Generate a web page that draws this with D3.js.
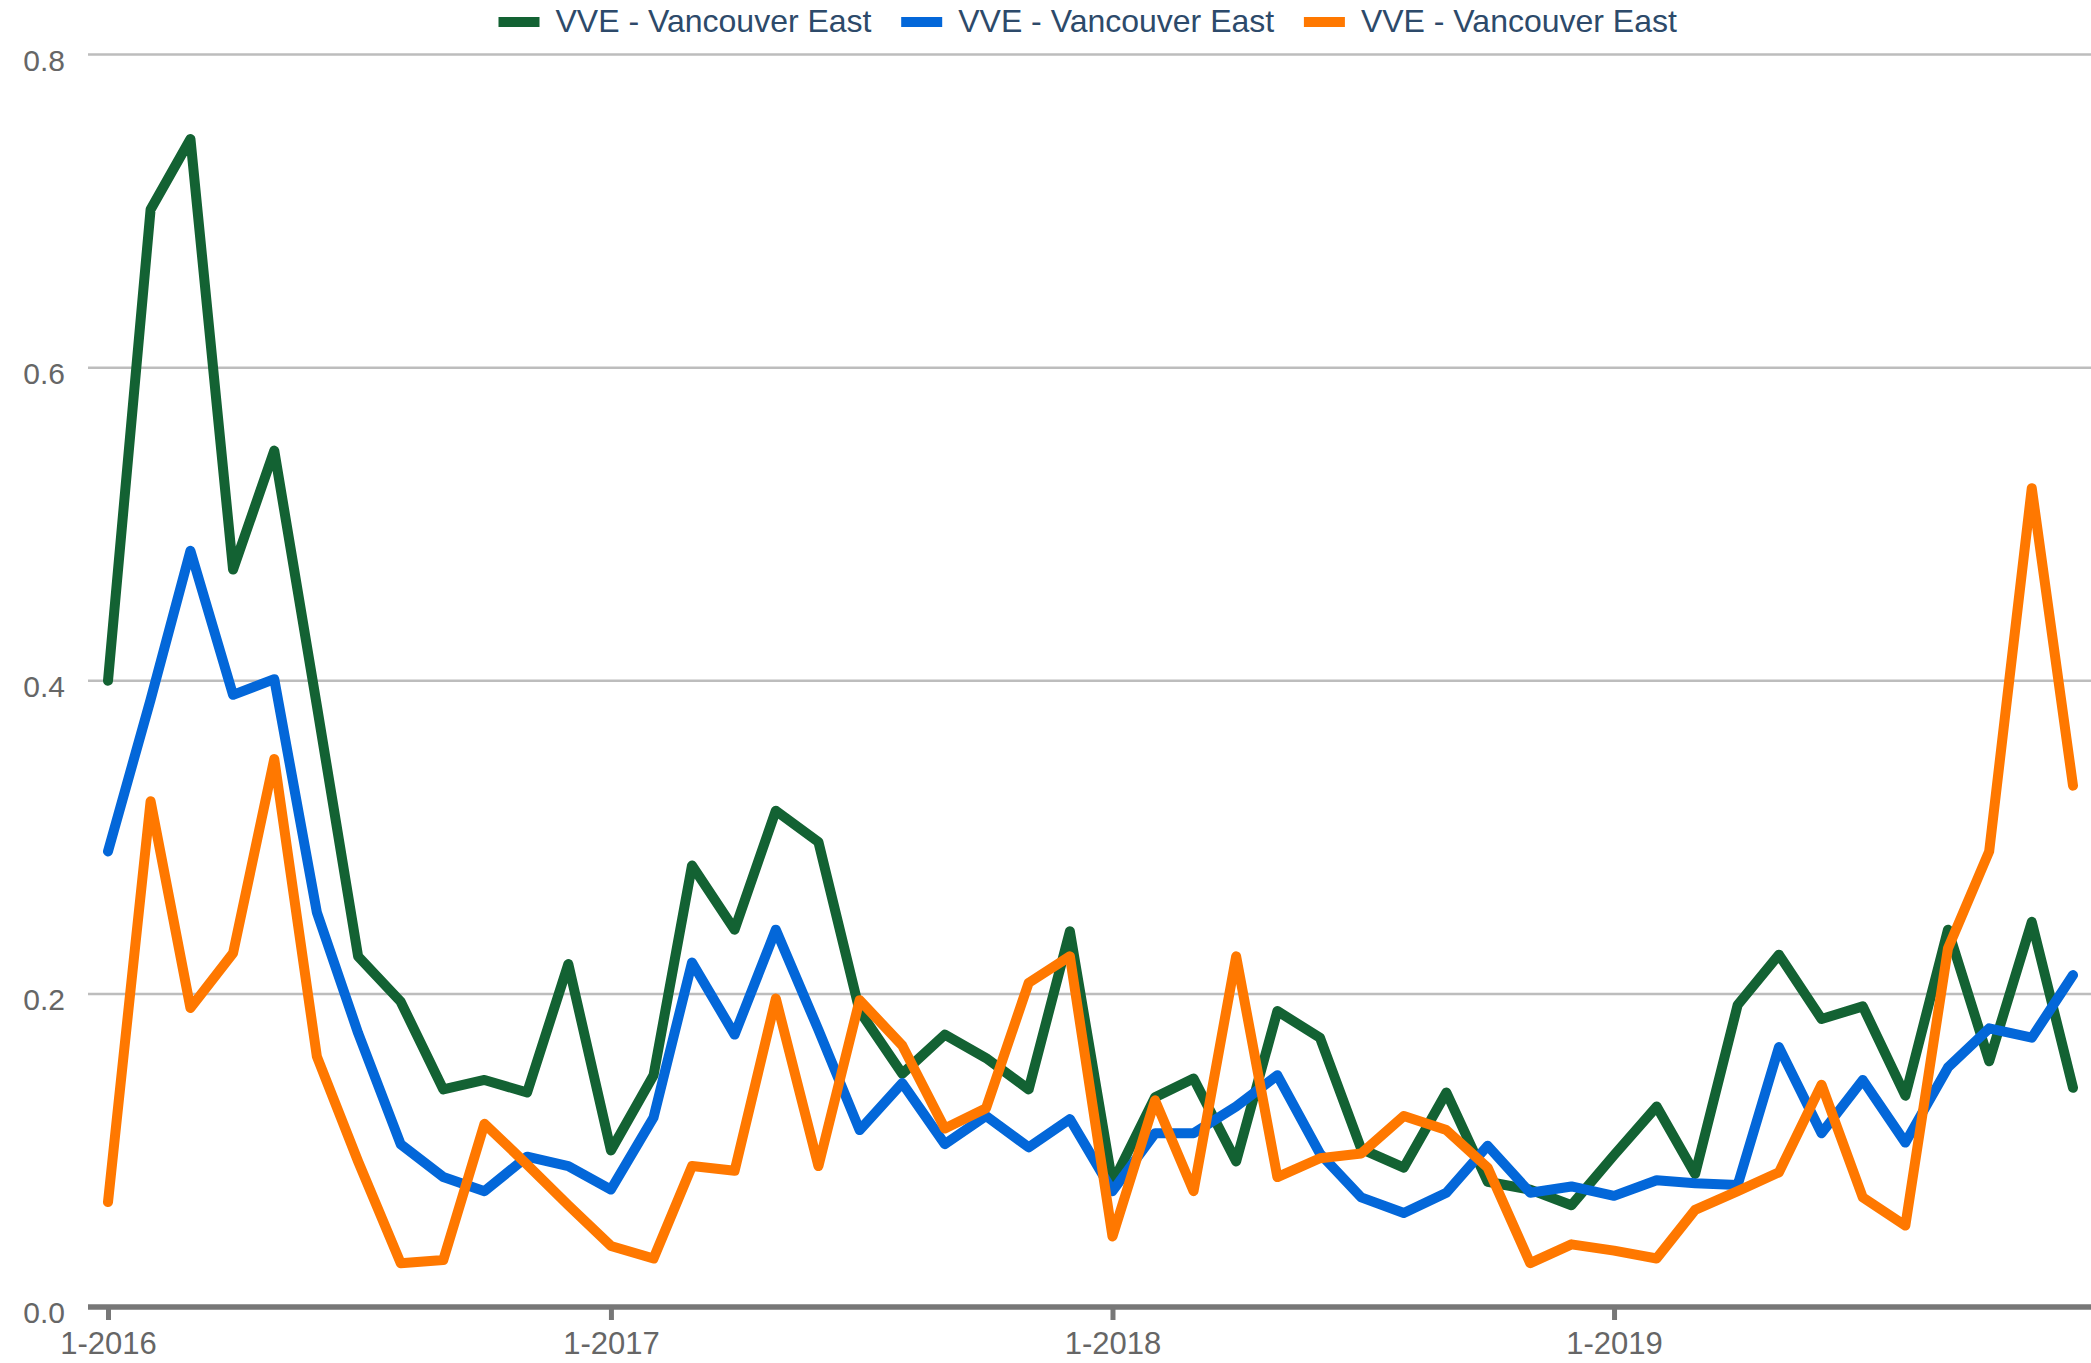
<!DOCTYPE html>
<html>
<head>
<meta charset="utf-8">
<script src="https://cdn.jsdelivr.net/npm/d3@7"></script>
<style>
  body { margin: 0; background: #fff; }
  text { font-family: "Liberation Sans", Arial, sans-serif; }
</style>
</head>
<body>
<div id="chart"></div>
<script>
// monthly data, Jan 2016 .. Dec 2019
var startMonth = new Date(2016, 0, 1);
var endMonth = new Date(2019, 11, 1);
var months = d3.timeMonth.range(startMonth, d3.timeMonth.offset(endMonth, 1));

var seriesNames = ['VVE - Vancouver East', 'VVE - Vancouver East', 'VVE - Vancouver East'];
var seriesColors = ['#136233', '#0367d9', '#ff7800'];

var greenValues = [
    0.400, 0.701, 0.746, 0.471, 0.547, 0.384, 0.224, 0.195, 0.139, 0.145, 0.137, 0.219,
    0.100, 0.148, 0.282, 0.241, 0.317, 0.297, 0.189, 0.149, 0.174, 0.159, 0.139, 0.240,
    0.079, 0.134, 0.146, 0.093, 0.189, 0.172, 0.101, 0.089, 0.137, 0.080, 0.075, 0.065,
    0.097, 0.128, 0.085, 0.193, 0.225, 0.184, 0.192, 0.135, 0.241, 0.157, 0.246, 0.140
];
var blueValues = [
    0.291, 0.388, 0.483, 0.391, 0.401, 0.252, 0.175, 0.104, 0.083, 0.074, 0.096, 0.090,
    0.075, 0.121, 0.220, 0.174, 0.241, 0.177, 0.113, 0.143, 0.104, 0.122, 0.102, 0.120,
    0.074, 0.111, 0.111, 0.128, 0.148, 0.098, 0.070, 0.060, 0.073, 0.103, 0.073, 0.077,
    0.071, 0.081, 0.079, 0.078, 0.166, 0.111, 0.145, 0.105, 0.153, 0.178, 0.172, 0.212
];
var orangeValues = [
    0.067, 0.323, 0.191, 0.226, 0.350, 0.160, 0.093, 0.028, 0.030, 0.117, 0.091, 0.065,
    0.039, 0.031, 0.090, 0.087, 0.197, 0.090, 0.196, 0.167, 0.114, 0.127, 0.207, 0.224,
    0.045, 0.132, 0.074, 0.224, 0.083, 0.095, 0.098, 0.122, 0.113, 0.089, 0.028, 0.040,
    0.036, 0.031, 0.062, 0.074, 0.086, 0.142, 0.070, 0.052, 0.229, 0.291, 0.523, 0.333
];
var yTicks = [0, 0.2, 0.4, 0.6, 0.8];

var width = 2091;
var height = 1363;
var plotLeft = 88;
var plotRight = 2091;

var svg = d3.select('#chart').append('svg')
    .attr('width', width)
    .attr('height', height);

var x = d3.scaleTime()
    .domain([startMonth, endMonth])
    .range([108, 2073]);

var y = d3.scaleLinear()
    .domain([0, 0.8])
    .range([1307, 54.5]);

// horizontal grid
svg.append('g').selectAll('line')
    .data(yTicks.filter(function (d) { return d > 0; }))
    .enter()
    .append('line')
    .attr('x1', plotLeft)
    .attr('x2', plotRight)
    .attr('y1', function (d) { return y(d); })
    .attr('y2', function (d) { return y(d); })
    .style('stroke', '#bdbdbd')
    .style('stroke-width', 2.5);

// y labels
svg.append('g').selectAll('text')
    .data(yTicks)
    .enter()
    .append('text')
    .attr('x', 65)
    .attr('y', function (d) { return y(d) + 16; })
    .attr('text-anchor', 'end')
    .style('font-size', '30px')
    .style('fill', '#666')
    .text(d3.format('.1f'));

// x axis
var xAxis = d3.axisBottom(x)
    .tickValues(d3.timeYear.range(startMonth, endMonth))
    .tickFormat(d3.timeFormat('%-m-%Y'))
    .tickSize(13)
    .tickPadding(12)
    .tickSizeOuter(0);

var gx = svg.append('g')
    .attr('transform', 'translate(0,' + y(0) + ')')
    .call(xAxis);
gx.select('.domain').remove();
gx.selectAll('.tick line').style('stroke', '#777').style('stroke-width', 5);
gx.selectAll('.tick text')
    .style('font-size', '31px')
    .style('font-family', '"Liberation Sans", Arial, sans-serif')
    .style('fill', '#666');
gx.append('line')
    .attr('x1', plotLeft)
    .attr('x2', plotRight)
    .attr('y1', 0)
    .attr('y2', 0)
    .style('stroke', '#777')
    .style('stroke-width', 5.5);

// lines
var line = d3.line()
    .x(function (d, i) { return x(months[i]); })
    .y(function (d) { return y(d); });

var allSeries = [greenValues, blueValues, orangeValues];

svg.append('g').selectAll('path')
    .data(allSeries)
    .enter()
    .append('path')
    .attr('d', line)
    .style('fill', 'none')
    .style('stroke', function (d, i) { return seriesColors[i]; })
    .style('stroke-width', 10)
    .style('stroke-linejoin', 'round')
    .style('stroke-linecap', 'round');

// legend
var itemWidth = 402.7;
var legend = svg.append('g').attr('transform', 'translate(498.5,0)');
var items = legend.selectAll('g')
    .data(seriesNames)
    .enter()
    .append('g')
    .attr('transform', function (d, i) { return 'translate(' + (i * itemWidth) + ',0)'; });
items.append('rect')
    .attr('x', 0)
    .attr('y', 17)
    .attr('width', 41)
    .attr('height', 10)
    .style('fill', function (d, i) { return seriesColors[i]; });
items.append('text')
    .attr('x', 57)
    .attr('y', 32)
    .style('font-size', '32px')
    .style('fill', '#2d4a6a')
    .text(function (d) { return d; });
</script>
</body>
</html>
